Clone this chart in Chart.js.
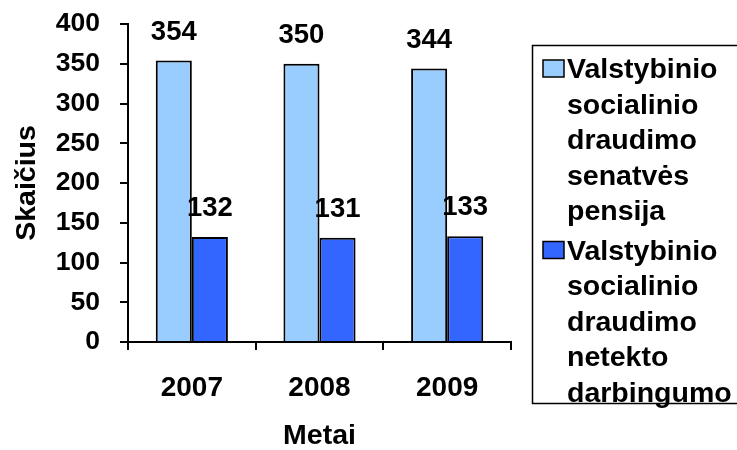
<!DOCTYPE html>
<html>
<head>
<meta charset="utf-8">
<script src="https://cdn.jsdelivr.net/npm/chart.js@4/dist/chart.umd.min.js"></script>
<style>
  html, body { margin: 0; padding: 0; background: #fff; }
  #wrap { width: 737px; height: 450px; }
</style>
</head>
<body>
<div id="wrap"><canvas id="c" width="737" height="450"></canvas></div>
<script>
const categories = ['2007', '2008', '2009'];
const seriesNames = [
  'Valstybinio socialinio draudimo senatvės pensija',
  'Valstybinio socialinio draudimo netekto darbingumo'
];
const oldAgePension = [354, 350, 344];
const disabilityPension = [132, 131, 133];
const seriesColors = ['#99CCFF', '#3366FF'];
const yTicks = [0, 50, 100, 150, 200, 250, 300, 350, 400];
const xTitle = 'Metai';
const yTitle = 'Skaičius';

const FONT = "'Liberation Sans', Arial, sans-serif";

const valueLabels = {
  id: 'valueLabels',
  afterDatasetsDraw(chart) {
    const ctx = chart.ctx;
    ctx.save();
    ctx.font = 'bold 27.5px ' + FONT;
    ctx.fillStyle = '#000';
    ctx.textAlign = 'center';
    ctx.textBaseline = 'alphabetic';
    chart.data.datasets.forEach((ds, i) => {
      const meta = chart.getDatasetMeta(i);
      meta.data.forEach((el, j) => {
        ctx.fillText(String(ds.data[j]), el.x, el.y - 21);
      });
    });
    ctx.restore();
  }
};

const boxLegend = {
  id: 'boxLegend',
  afterDraw(chart) {
    const ctx = chart.ctx;
    ctx.save();
    ctx.lineWidth = 1.5;
    ctx.strokeStyle = '#000';
    ctx.strokeRect(532.5, 45.5, 300, 358);
    ctx.font = 'bold 28.5px ' + FONT;
    ctx.textAlign = 'left';
    ctx.textBaseline = 'alphabetic';
    let y = 78;
    chart.data.datasets.forEach((ds, i) => {
      const words = ds.label.split(' ');
      ctx.fillStyle = ds.backgroundColor;
      ctx.fillRect(543, y - 18, 21, 17);
      ctx.lineWidth = 1.5;
      ctx.strokeRect(543, y - 18, 21, 17);
      ctx.fillStyle = '#000';
      words.forEach((w, k) => {
        ctx.fillText(w, 567, y);
        y += 35.5;
      });
      y += 4;
    });
    ctx.restore();
  }
};

new Chart(document.getElementById('c'), {
  type: 'bar',
  data: {
    labels: categories,
    datasets: [
      { label: seriesNames[0], data: oldAgePension, backgroundColor: seriesColors[0], borderColor: '#000', borderWidth: 2 },
      { label: seriesNames[1], data: disabilityPension, backgroundColor: seriesColors[1], borderColor: '#000', borderWidth: 2 }
    ]
  },
  options: {
    responsive: false,
    animation: false,
    events: [],
    layout: { padding: { top: 24, right: 226, left: 0, bottom: 0 } },
    datasets: { bar: { categoryPercentage: 0.565, barPercentage: 1 } },
    plugins: {
      legend: { display: false },
      tooltip: { enabled: false },
      title: { display: false }
    },
    scales: {
      x: {
        afterFit(scale) { scale.height = 108; },
        grid: { offset: true, drawOnChartArea: false, drawTicks: true, tickLength: 8, color: '#000', lineWidth: 2 },
        border: { display: true, color: '#000', width: 2 },
        ticks: { color: '#000', font: { family: FONT, size: 28, weight: 'bold' }, padding: 21, maxRotation: 0 },
        title: { display: true, text: xTitle, color: '#000', font: { family: FONT, size: 28.5, weight: 'bold', lineHeight: 1 }, padding: { top: 0, bottom: 0 } }
      },
      y: {
        min: 0,
        max: 400,
        afterFit(scale) { scale.width = 128; scale.paddingTop = 0; scale.paddingBottom = 0; },
        afterBuildTicks(scale) { scale.ticks = yTicks.map(v => ({ value: v })); },
        grid: { drawOnChartArea: false, drawTicks: true, tickLength: 8, color: '#000', lineWidth: 2 },
        border: { display: true, color: '#000', width: 2 },
        ticks: { color: '#000', font: { family: FONT, size: 26.5, weight: 'bold' }, padding: 20 },
        title: { display: true, text: yTitle, color: '#000', font: { family: FONT, size: 28.5, weight: 'bold', lineHeight: 1 }, padding: { top: 13, bottom: 0 } }
      }
    }
  },
  plugins: [valueLabels, boxLegend]
});
</script>
</body>
</html>
